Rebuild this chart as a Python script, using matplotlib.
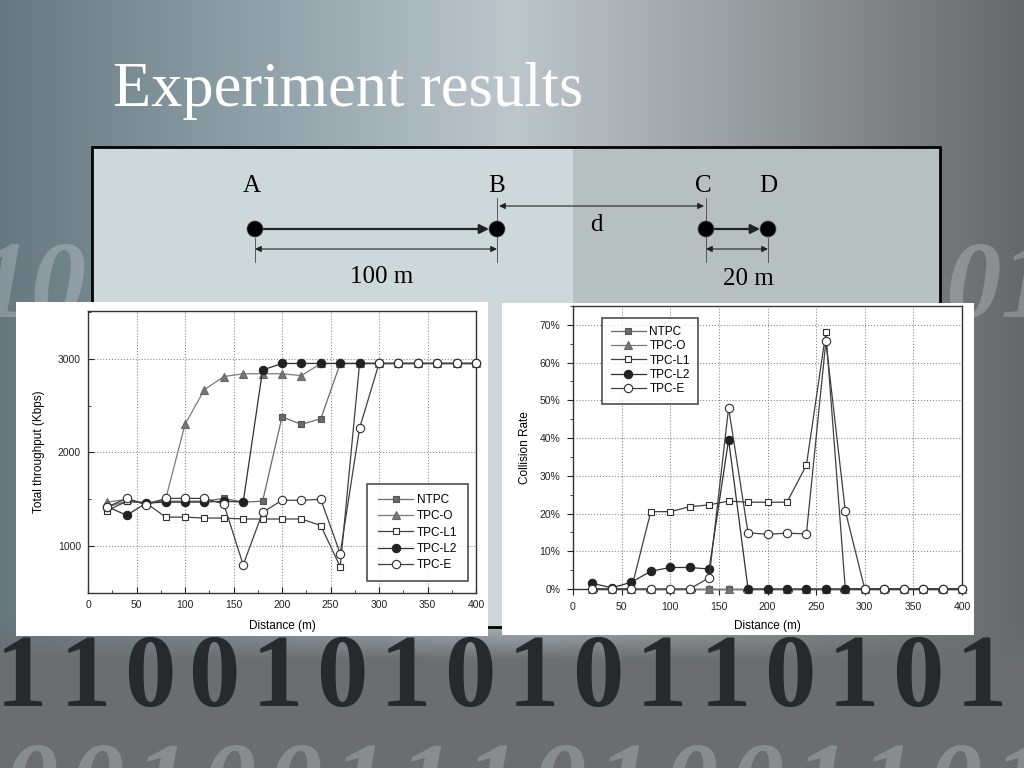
import numpy as np
import matplotlib
matplotlib.use('Agg')
import matplotlib.pyplot as plt
from matplotlib.patches import Rectangle, Circle
from matplotlib.ticker import MultipleLocator, PercentFormatter

# distance steps shared by both charts
distance = [20, 40, 60, 80, 100, 120, 140, 160, 180, 200,
            220, 240, 260, 280, 300, 320, 340, 360, 380, 400]

series_names = ['NTPC', 'TPC-O', 'TPC-L1', 'TPC-L2', 'TPC-E']

# total throughput (Kbps)
thr_ntpc = [1420, 1480, 1460, 1480, 1480, 1480, 1510, 1470, 1480, 2380,
            2300, 2360, 2950, 2950, 2950, 2950, 2950, 2950, 2950, 2950]
thr_tpco = [1470, 1500, 1460, 1500, 2300, 2670, 2810, 2840, 2840, 2840,
            2820, 2950, 2950, 2950, 2950, 2950, 2950, 2950, 2950, 2950]
thr_tpcl1 = [1380, 1480, 1460, 1310, 1310, 1300, 1300, 1290, 1290, 1290,
             1290, 1220, 780, 2950, 2950, 2950, 2950, 2950, 2950, 2950]
thr_tpcl2 = [1420, 1330, 1460, 1470, 1470, 1470, 1480, 1470, 2880, 2950,
             2950, 2950, 2950, 2950, 2950, 2950, 2950, 2950, 2950, 2950]
thr_tpce = [1420, 1510, 1440, 1510, 1510, 1510, 1450, 800, 1360, 1490,
            1490, 1500, 920, 2260, 2950, 2950, 2950, 2950, 2950, 2950]

# collision rate (%)
col_ntpc = [0] * 20
col_tpco = [0] * 20
col_tpcl1 = [0, 0, 0, 20.5, 20.5, 21.8, 22.3, 23.3, 23.0, 23.0,
             23.0, 32.8, 68.0, 0, 0, 0, 0, 0, 0, 0]
col_tpcl2 = [1.5, 0.3, 1.8, 4.7, 5.7, 5.7, 5.3, 39.6, 0, 0,
             0, 0, 0, 0, 0, 0, 0, 0, 0, 0]
col_tpce = [0, 0, 0, 0, 0, 0, 3.0, 48.0, 14.9, 14.5,
            14.8, 14.6, 65.6, 20.7, 0, 0, 0, 0, 0, 0]

# decorative binary rows of the slide background
bottom_digits = '1100101010110101'
lowest_digits = '0010011101001101'

W, H = 1024, 768

# marker / line look for each series
styles = {
    'NTPC': dict(marker='s', color='#6a6a6a', mfc='#6a6a6a', mec='#555555', ms=5),
    'TPC-O': dict(marker='^', color='#7a7a7a', mfc='#777777', mec='#666666', ms=6),
    'TPC-L1': dict(marker='s', color='#404040', mfc='white', mec='#303030', ms=5),
    'TPC-L2': dict(marker='o', color='#303030', mfc='#222222', mec='#222222', ms=6),
    'TPC-E': dict(marker='o', color='#404040', mfc='white', mec='#303030', ms=6),
}


def fig_rect(x0, y0, x1, y1):
    # convert pixel box (top-left origin) to figure fraction
    return [x0 / W, (H - y1) / H, (x1 - x0) / W, (y1 - y0) / H]


def draw_background(ax):
    # horizontal gray-blue gradient, darker toward the bottom
    xs = np.linspace(0, 1, W)
    kx = [0.0, 0.25, 0.5, 0.75, 1.0]
    r = np.interp(xs, kx, [0.40, 0.56, 0.74, 0.58, 0.40])
    g = np.interp(xs, kx, [0.47, 0.63, 0.78, 0.60, 0.41])
    b = np.interp(xs, kx, [0.50, 0.66, 0.80, 0.61, 0.42])
    img = np.stack([np.tile(r, (H, 1)), np.tile(g, (H, 1)), np.tile(b, (H, 1))], axis=2)
    ys = np.linspace(0, 1, H)
    wgt = np.clip((ys - 0.80) / 0.06, 0, 1)[:, None, None]
    img = img * (1 - wgt) + np.array([0.42, 0.43, 0.44]) * wgt
    ax.imshow(img, extent=[0, W, H, 0], aspect='auto', zorder=0)

    # faint watermark digits in the side gutters
    ax.text(-25, 290, '10', fontsize=80, color='white', alpha=0.22,
            family='Liberation Serif', weight='bold', style='italic', va='center', zorder=1)
    ax.text(945, 290, '01', fontsize=80, color='white', alpha=0.22,
            family='Liberation Serif', weight='bold', style='italic', va='center', zorder=1)

    # dark slab digits along the bottom, one per 64 px slot
    for i, ch in enumerate(bottom_digits):
        ax.text(22 + i * 64, 706, ch, fontsize=74, color='#262a2c', family='Liberation Serif',
                weight='bold', ha='center', va='baseline', zorder=1)
    for i, ch in enumerate(lowest_digits):
        ax.text(30 + i * 66, 742, ch, fontsize=78, color='#a3abaf', alpha=0.5, family='Liberation Serif',
                weight='bold', style='italic', ha='center', va='top', zorder=1)


def draw_diagram(ax):
    # framed panel with a lighter left half
    ax.add_patch(Rectangle((92, 147), 481, 480, facecolor='#cdd8da', edgecolor='none', zorder=2))
    ax.add_patch(Rectangle((573, 147), 367, 480, facecolor='#b6c0c1', edgecolor='none', zorder=2))
    ax.add_patch(Rectangle((92, 147), 848, 480, facecolor='none', edgecolor='black', lw=2, zorder=3))

    nodes = {'A': 255, 'B': 497, 'C': 706, 'D': 768}
    for name, x in nodes.items():
        ax.add_patch(Circle((x, 229), 8, facecolor='black', edgecolor='#555', lw=0.5, zorder=5))
        ax.text(x - (3 if name in ('A', 'C') else 0), 186, name, fontsize=18, family='Liberation Serif',
                ha='center', va='center', color='black', zorder=5)

    # transmission arrows
    ax.annotate('', xy=(489, 229), xytext=(255, 229), zorder=4,
                arrowprops=dict(arrowstyle='-|>', color='#222', lw=1.6, mutation_scale=14, shrinkA=0, shrinkB=0))
    ax.annotate('', xy=(760, 229), xytext=(706, 229), zorder=4,
                arrowprops=dict(arrowstyle='-|>', color='#222', lw=1.6, mutation_scale=14, shrinkA=0, shrinkB=0))

    # dimension arrows and extension lines
    for (x0, x1, y) in [(255, 497, 249), (499, 704, 206), (706, 768, 249)]:
        ax.annotate('', xy=(x1, y), xytext=(x0, y), zorder=4,
                    arrowprops=dict(arrowstyle='<|-|>', color='#222', lw=0.8, mutation_scale=9, shrinkA=0, shrinkB=0))
    for (x, y0, y1) in [(255, 238, 262), (497, 198, 262), (706, 198, 262), (768, 238, 262)]:
        ax.plot([x, x], [y0, y1], color='#444', lw=0.6, zorder=4)

    ax.text(382, 277, '100 m', fontsize=18, family='Liberation Serif', ha='center', va='center', zorder=5)
    ax.text(596, 225, 'd', fontsize=18, family='Liberation Serif', ha='center', va='center', zorder=5)
    ax.text(748, 279, '20 m', fontsize=18, family='Liberation Serif', ha='center', va='center', zorder=5)


def style_chart(ax, tickdir):
    ax.set_xlim(0, 400)
    ax.xaxis.set_major_locator(MultipleLocator(50))
    ax.xaxis.set_minor_locator(MultipleLocator(25))
    ax.grid(True, which='major', linestyle=':', color='#8a8a8a', lw=0.8)
    ax.tick_params(which='both', direction=tickdir, labelsize=7.5, colors='#222', pad=5)
    ax.tick_params(which='major', length=4)
    ax.tick_params(which='minor', length=2)
    for s in ax.spines.values():
        s.set_color('#333')
        s.set_linewidth(1.0)


def plot_series(ax, values):
    for name, vals in zip(series_names, values):
        st = styles[name]
        ax.plot(distance, vals, marker=st['marker'], color=st['color'], mfc=st['mfc'],
                mec=st['mec'], ms=st['ms'], lw=0.9, mew=0.8, label=name, clip_on=False, zorder=3)


def main():
    plt.rcParams['font.family'] = ['Liberation Sans', 'DejaVu Sans']
    fig = plt.figure(figsize=(W / 100, H / 100), dpi=100)

    bg = fig.add_axes([0, 0, 1, 1])
    bg.set_xlim(0, W)
    bg.set_ylim(H, 0)
    bg.axis('off')
    draw_background(bg)
    draw_diagram(bg)

    # title
    bg.text(113, 106, 'Experiment results', fontsize=45, family='Liberation Serif',
            color='white', va='baseline', ha='left', zorder=6)

    # white panels behind the charts
    bg.add_patch(Rectangle((16, 302), 472, 334, facecolor='white', edgecolor='none', zorder=6))
    bg.add_patch(Rectangle((502, 303), 472, 332, facecolor='white', edgecolor='none', zorder=6))

    # left chart: total throughput
    ax1 = fig.add_axes(fig_rect(88, 311, 476, 593))
    ax1.set_facecolor('white')
    plot_series(ax1, [thr_ntpc, thr_tpco, thr_tpcl1, thr_tpcl2, thr_tpce])
    style_chart(ax1, 'in')
    ax1.set_ylim(500, 3510)
    ax1.set_yticks([1000, 2000, 3000])
    ax1.yaxis.set_minor_locator(MultipleLocator(500))
    ax1.set_xlabel('Distance (m)', fontsize=8.5, labelpad=7)
    ax1.set_ylabel('Total throughput (Kbps)', fontsize=8.5, labelpad=9)
    ax1.legend(loc='lower right', bbox_to_anchor=(0.995, 0.02), fontsize=8.5, frameon=True,
               fancybox=False, edgecolor='#222', handlelength=3.0, borderpad=0.9,
               labelspacing=0.35, handletextpad=0.3).get_frame().set_linewidth(1.2)

    # right chart: collision rate
    ax2 = fig.add_axes(fig_rect(573, 306, 962, 589))
    ax2.set_facecolor('white')
    plot_series(ax2, [col_ntpc, col_tpco, col_tpcl1, col_tpcl2, col_tpce])
    style_chart(ax2, 'out')
    ax2.set_ylim(0, 75)
    ax2.yaxis.set_major_locator(MultipleLocator(10))
    ax2.yaxis.set_minor_locator(MultipleLocator(5))
    ax2.yaxis.set_major_formatter(PercentFormatter(decimals=0))
    ax2.set_xlabel('Distance (m)', fontsize=8.5, labelpad=6)
    ax2.set_ylabel('Collision Rate', fontsize=8.5, labelpad=6)
    ax2.legend(loc='upper left', bbox_to_anchor=(0.06, 0.98), fontsize=8.5, frameon=True,
               fancybox=False, edgecolor='#222', handlelength=3.0, borderpad=0.7,
               labelspacing=0.2, handletextpad=0.3).get_frame().set_linewidth(1.2)

    fig.savefig('out.png', dpi=100)


if __name__ == '__main__':
    main()
